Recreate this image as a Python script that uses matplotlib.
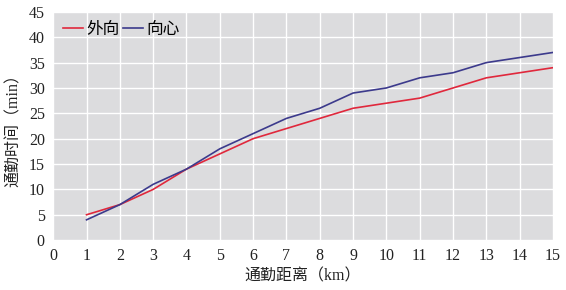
#!/usr/bin/env python3

import numpy as np
from matplotlib import pyplot as plt

plt.rcParams['font.family'] = ['Liberation Serif', 'Noto Sans CJK SC']

distance = [1, 2, 3, 4, 5, 6, 7, 8, 9, 10, 11, 12, 13, 14, 15]
outward = [5, 7, 10, 14, 17, 20, 22, 24, 26, 27, 28, 30, 32, 33, 34]
inward = [4, 7, 11, 14, 18, 21, 24, 26, 29, 30, 32, 33, 35, 36, 37]

fig = plt.figure(figsize=(5.66, 2.90), dpi=100)
ax = fig.add_axes([0.094, 0.172, 0.883, 0.787])
ax.set_facecolor('#dcdcde')
for s in ax.spines.values():
  s.set_visible(False)

ax.plot(distance, outward, color='#e0283c', lw=1.2, label='外向')
ax.plot(distance, inward, color='#3c3a8c', lw=1.2, label='向心')

ax.set_xlim(0, 15)
ax.set_ylim(0, 45)
ax.set_xticks(np.arange(0, 16, 1))
ax.set_yticks(np.arange(0, 46, 5))
ax.grid(color='white', lw=1.0)
ax.set_axisbelow(True)
ax.tick_params(length=0, labelsize=11.5, colors='#222222', pad=6)

ax.set_xlabel('通勤距离（km）', fontsize=11.5, color='#222222', labelpad=3)
ax.set_ylabel('通勤时间（min）', fontsize=11.5, color='#222222', labelpad=5)

ax.legend(loc='upper left', ncol=2, frameon=False, fontsize=12, handlelength=1.2,
          handletextpad=0.2, columnspacing=0.2, borderaxespad=0.3, borderpad=0.3)

fig.savefig('out.png', dpi=100)
